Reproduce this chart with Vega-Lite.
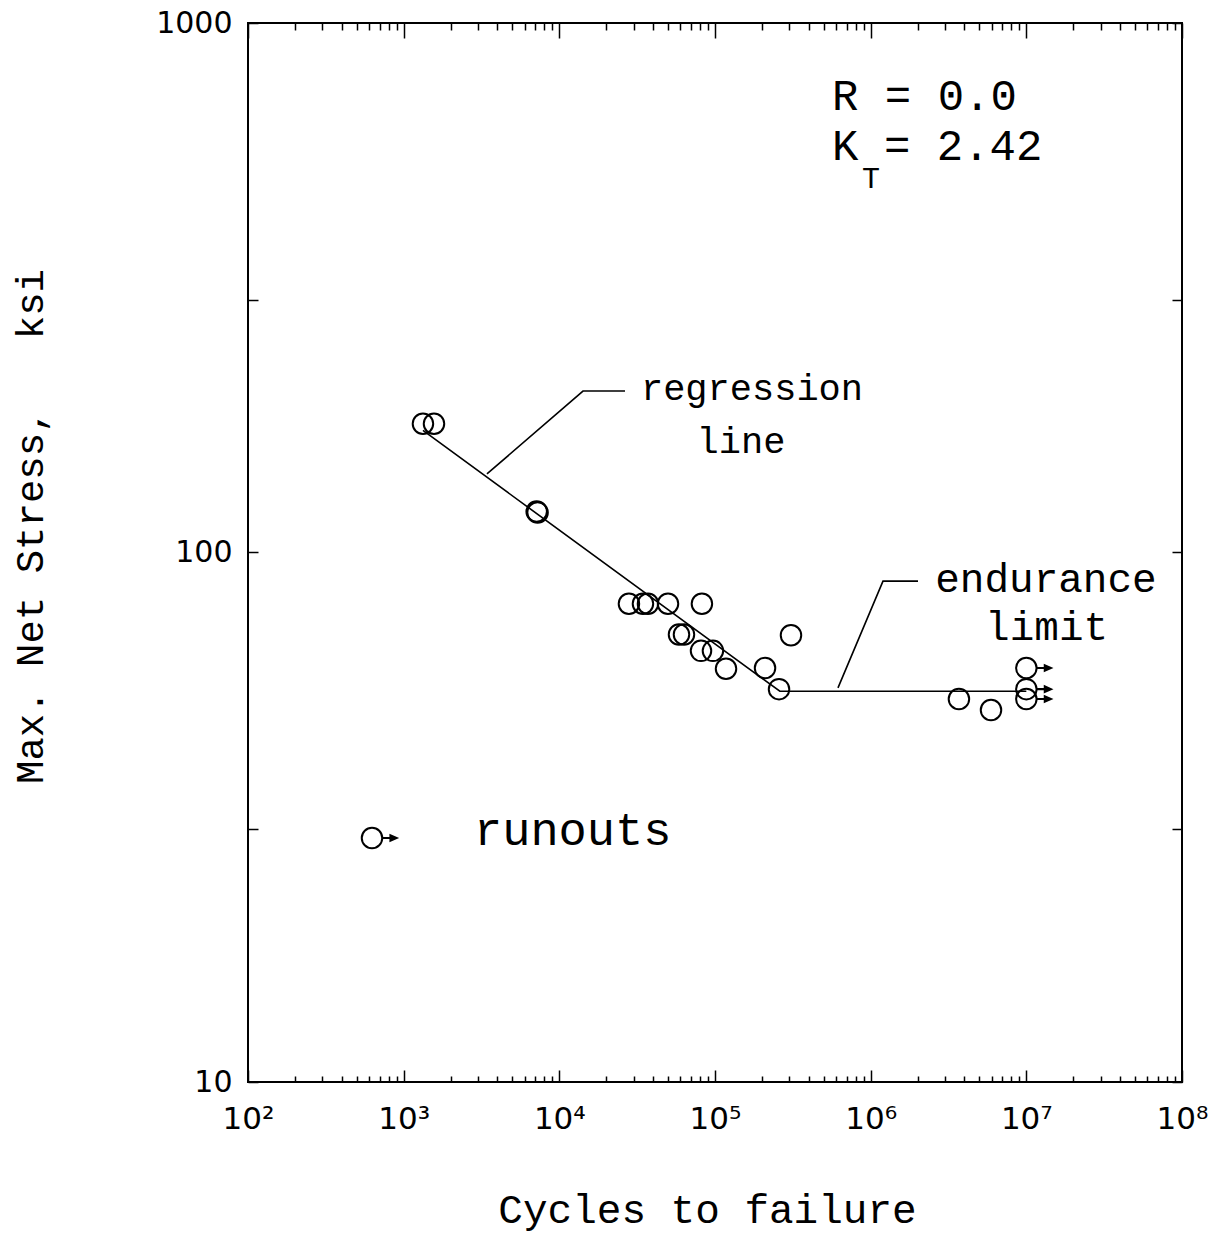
{
  "$schema": "https://vega.github.io/schema/vega-lite/v6.json",
  "width": 934,
  "height": 1059,
  "autosize": {"type": "none"},
  "padding": {"left": 248, "top": 23, "right": 36, "bottom": 155},
  "background": "white",
  "config": {"view": {"stroke": "black", "strokeWidth": 2}},
  "datasets": {
    "pts": [
      {"N": 1330, "S": 175, "runout": false},
      {"N": 1566, "S": 175, "runout": false},
      {"N": 7150, "S": 119.5, "runout": false},
      {"N": 7250, "S": 119, "runout": false},
      {"N": 28000, "S": 80, "runout": false},
      {"N": 34450, "S": 80, "runout": false},
      {"N": 37100, "S": 80, "runout": false},
      {"N": 49900, "S": 80, "runout": false},
      {"N": 82400, "S": 80, "runout": false},
      {"N": 58700, "S": 70, "runout": false},
      {"N": 63200, "S": 70, "runout": false},
      {"N": 81300, "S": 65.2, "runout": false},
      {"N": 97000, "S": 65.2, "runout": false},
      {"N": 117700, "S": 60.3, "runout": false},
      {"N": 209600, "S": 60.5, "runout": false},
      {"N": 257800, "S": 55.2, "runout": false},
      {"N": 307700, "S": 69.8, "runout": false},
      {"N": 3690000, "S": 52.9, "runout": false},
      {"N": 5930000, "S": 50.4, "runout": false},
      {"N": 10000000, "S": 60.5, "runout": true},
      {"N": 10000000, "S": 55.2, "runout": true},
      {"N": 10000000, "S": 52.9, "runout": true},
      {"N": 626, "S": 28.9, "runout": true}
    ],
    "curve": [
      {"g": "fit", "N": 1330, "S": 170},
      {"g": "fit", "N": 261000, "S": 54.7},
      {"g": "fit", "N": 10000000, "S": 54.7},
      {"g": "lead1", "N": 3428, "S": 140.7},
      {"g": "lead1", "N": 14190, "S": 201.8},
      {"g": "lead1", "N": 26420, "S": 201.8},
      {"g": "lead2", "N": 616600, "S": 55.5},
      {"g": "lead2", "N": 1200000, "S": 88.3},
      {"g": "lead2", "N": 2014000, "S": 88.3}
    ],
    "notes": [
      {"kind": "a", "text": "regression", "N": 172800, "S": 194},
      {"kind": "a", "text": "line", "N": 146900, "S": 154.1},
      {"kind": "b", "text": "endurance", "N": 13370000, "S": 84.2},
      {"kind": "b", "text": "limit", "N": 13500000, "S": 68.3},
      {"kind": "c", "text": "runouts", "N": 2830, "S": 28.0},
      {"kind": "d", "text": "R = 0.0", "N": 564500, "S": 685},
      {"kind": "d", "text": "K", "N": 564500, "S": 551},
      {"kind": "d", "text": "= 2.42", "N": 1218000, "S": 551},
      {"kind": "e", "text": "T", "N": 879000, "S": 488}
    ]
  },
  "resolve": {"axis": {"x": "independent", "y": "independent"}},
  "layer": [
    {
      "data": {"name": "curve"},
      "mark": {"type": "line", "color": "black", "strokeWidth": 1.6},
      "encoding": {
        "x": {
          "field": "N", "type": "quantitative",
          "scale": {"type": "log", "domain": [100, 100000000], "nice": false},
          "axis": {
            "orient": "bottom",
            "values": [100,200,300,400,500,600,700,800,900,1000,2000,3000,4000,5000,6000,7000,8000,9000,10000,20000,30000,40000,50000,60000,70000,80000,90000,100000,200000,300000,400000,500000,600000,700000,800000,900000,1000000,2000000,3000000,4000000,5000000,6000000,7000000,8000000,9000000,10000000,20000000,30000000,40000000,50000000,60000000,70000000,80000000,90000000,100000000],
            "labelExpr": "abs(log(datum.value)/LN10 - round(log(datum.value)/LN10)) < 0.001 ? '10' + substring('⁰¹²³⁴⁵⁶⁷⁸', round(log(datum.value)/LN10), round(log(datum.value)/LN10) + 1) : ''",
            "labelFont": "DejaVu Sans",
            "labelFontSize": 31,
            "labelColor": "black",
            "labelOverlap": false,
            "labelFlush": false,
            "labelPadding": 34,
            "tickSize": {"condition": {"test": "abs(log(datum.value)/LN10 - round(log(datum.value)/LN10)) < 0.001", "value": -12}, "value": -6},
            "tickColor": "black",
            "tickWidth": 1.5,
            "domain": false,
            "grid": false,
            "title": "Cycles to failure",
            "titleFont": "Liberation Mono",
            "titleFontSize": 41,
            "titleFontWeight": "normal",
            "titleColor": "black",
            "titleBaseline": "alphabetic",
            "titleX": 459,
            "titleY": 140
          }
        },
        "y": {
          "field": "S", "type": "quantitative",
          "scale": {"type": "log", "domain": [10, 1000], "nice": false},
          "axis": {
            "orient": "left",
            "values": [10, 30, 100, 300, 1000],
            "labelExpr": "(datum.value == 10 || datum.value == 100 || datum.value == 1000) ? format(datum.value, 'd') : ''",
            "labelFont": "DejaVu Sans",
            "labelFontSize": 30,
            "labelColor": "black",
            "labelOverlap": false,
            "labelFlush": false,
            "labelPadding": 26,
            "tickSize": -10,
            "tickColor": "black",
            "tickWidth": 1.5,
            "domain": false,
            "grid": false,
            "title": "Max. Net Stress,\u00a0\u00a0\u00a0ksi",
            "titleFont": "Liberation Mono",
            "titleFontSize": 39,
            "titleFontWeight": "normal",
            "titleColor": "black",
            "titleBaseline": "middle",
            "titleX": -218,
            "titleY": 503
          }
        },
        "detail": {"field": "g"}
      }
    },
    {
      "data": {"name": "pts"},
      "mark": {"type": "point", "shape": "circle", "filled": false, "color": "black", "strokeWidth": 2, "size": 420, "opacity": 1},
      "encoding": {
        "x": {
          "field": "N", "type": "quantitative",
          "scale": {"type": "log", "domain": [100, 100000000], "nice": false},
          "axis": {
            "orient": "top",
            "values": [100,200,300,400,500,600,700,800,900,1000,2000,3000,4000,5000,6000,7000,8000,9000,10000,20000,30000,40000,50000,60000,70000,80000,90000,100000,200000,300000,400000,500000,600000,700000,800000,900000,1000000,2000000,3000000,4000000,5000000,6000000,7000000,8000000,9000000,10000000,20000000,30000000,40000000,50000000,60000000,70000000,80000000,90000000,100000000],
            "labels": false,
            "tickSize": {"condition": {"test": "abs(log(datum.value)/LN10 - round(log(datum.value)/LN10)) < 0.001", "value": -15}, "value": -7},
            "tickColor": "black",
            "tickWidth": 1.5,
            "domain": false,
            "grid": false,
            "title": null
          }
        },
        "y": {
          "field": "S", "type": "quantitative",
          "scale": {"type": "log", "domain": [10, 1000], "nice": false},
          "axis": {
            "orient": "right",
            "values": [10, 30, 100, 300, 1000],
            "labels": false,
            "tickSize": -10,
            "tickColor": "black",
            "tickWidth": 1.5,
            "domain": false,
            "grid": false,
            "title": null
          }
        }
      }
    },
    {
      "data": {"name": "pts"},
      "transform": [{"filter": "datum.runout"}],
      "mark": {"type": "point", "shape": "M1.02,-0.1L1.7,-0.1L1.7,-0.42L2.65,0L1.7,0.42L1.7,0.1L1.02,0.1Z", "filled": true, "color": "black", "size": 420, "opacity": 1, "strokeWidth": 0},
      "encoding": {
        "x": {"field": "N", "type": "quantitative", "axis": null},
        "y": {"field": "S", "type": "quantitative", "axis": null}
      }
    },
    {
      "data": {"name": "notes"},
      "transform": [{"filter": "datum.kind == 'a'"}],
      "mark": {"type": "text", "font": "Liberation Mono", "fontSize": 37, "align": "center", "baseline": "alphabetic", "color": "black"},
      "encoding": {
        "x": {"field": "N", "type": "quantitative", "axis": null},
        "y": {"field": "S", "type": "quantitative", "axis": null},
        "text": {"field": "text"}
      }
    },
    {
      "data": {"name": "notes"},
      "transform": [{"filter": "datum.kind == 'b'"}],
      "mark": {"type": "text", "font": "Liberation Mono", "fontSize": 41, "align": "center", "baseline": "alphabetic", "color": "black"},
      "encoding": {
        "x": {"field": "N", "type": "quantitative", "axis": null},
        "y": {"field": "S", "type": "quantitative", "axis": null},
        "text": {"field": "text"}
      }
    },
    {
      "data": {"name": "notes"},
      "transform": [{"filter": "datum.kind == 'c'"}],
      "mark": {"type": "text", "font": "Liberation Mono", "fontSize": 47, "align": "left", "baseline": "alphabetic", "color": "black"},
      "encoding": {
        "x": {"field": "N", "type": "quantitative", "axis": null},
        "y": {"field": "S", "type": "quantitative", "axis": null},
        "text": {"field": "text"}
      }
    },
    {
      "data": {"name": "notes"},
      "transform": [{"filter": "datum.kind == 'd'"}],
      "mark": {"type": "text", "font": "Liberation Mono", "fontSize": 44, "align": "left", "baseline": "alphabetic", "color": "black"},
      "encoding": {
        "x": {"field": "N", "type": "quantitative", "axis": null},
        "y": {"field": "S", "type": "quantitative", "axis": null},
        "text": {"field": "text"}
      }
    },
    {
      "data": {"name": "notes"},
      "transform": [{"filter": "datum.kind == 'e'"}],
      "mark": {"type": "text", "font": "Liberation Mono", "fontSize": 30, "align": "left", "baseline": "alphabetic", "color": "black"},
      "encoding": {
        "x": {"field": "N", "type": "quantitative", "axis": null},
        "y": {"field": "S", "type": "quantitative", "axis": null},
        "text": {"field": "text"}
      }
    }
  ]
}
